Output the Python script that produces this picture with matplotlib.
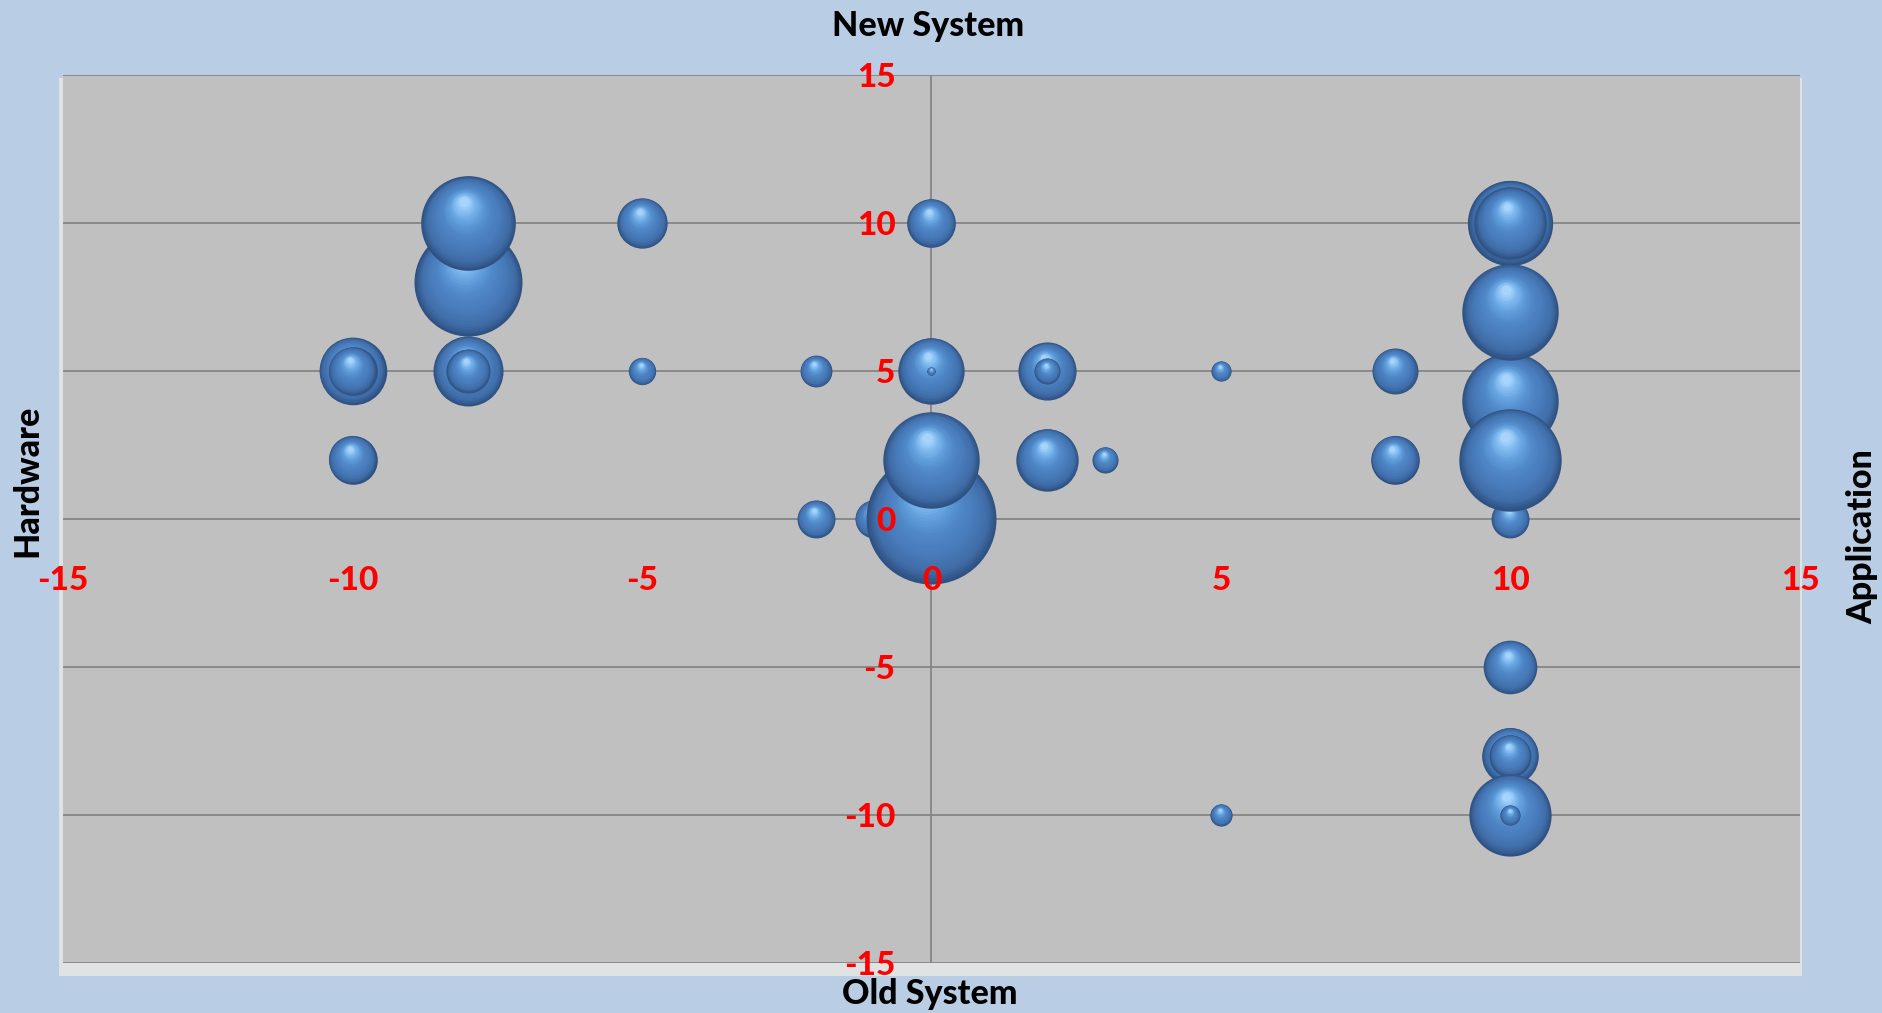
import matplotlib
matplotlib.use("Agg")
import matplotlib.pyplot as plt
import numpy as np
from matplotlib.colors import LinearSegmentedColormap
from matplotlib.transforms import offset_copy
from matplotlib.patches import Rectangle

# Bubble data (drawing order matters: later bubbles sit in front)
x_vals = [-1, 0, 0, -8, -8, -5, 0, 10, 10, 10, 10, 10, 10,
          -10, -10, -8, -8, -5, -2, 0, 0, 2, 2, 5, 8,
          -10, 2, 3, 8, -2, 10, 10, 10, 10, 10, 5]
y_vals = [0, 0, 2, 8, 10, 10, 10, 10, 10, 0, 4, 7, 2,
          5, 5, 5, 5, 5, 5, 5, 5, 5, 5, 5, 5,
          2, 2, 2, 2, 0, -5, -8, -8, -10, -10, -10]
sizes = [8.5, 100, 55, 69, 53, 15, 14, 43, 31, 8.5, 55, 55, 62,
         27, 14, 29, 11.5, 4.4, 6, 26, 0.4, 20, 4, 2.4, 12.5,
         14, 23, 4, 14, 8.5, 17, 19, 10.4, 40, 2.4, 2.9]

ticks = [-15, -10, -5, 0, 5, 10, 15]

FIG_BG = "#B9CDE5"
PLOT_BG = "#C0C0C0"
GRID = "#858585"
LABEL_RED = "#FF0000"
FONT = ["Lato", "DejaVu Sans"]

W, H = 1883, 1013
fig = plt.figure(figsize=(W / 100, H / 100), dpi=100)
fig.patch.set_facecolor(FIG_BG)

# soft light glow around the plot area, behind the axes
glow = Rectangle((59 / W, 1 - 976 / H), (1802 - 59) / W, (976 - 78) / H,
                 transform=fig.transFigure, facecolor="#ECEBE3",
                 edgecolor="none", alpha=0.75, zorder=-5)
fig.patches.append(glow)

left, right, top, bottom = 63, 1800, 75, 963
ax = fig.add_axes([left / W, 1 - bottom / H, (right - left) / W, (bottom - top) / H])
ax.set_zorder(1)
ax.set_facecolor(PLOT_BG)
ax.set_xlim(-15, 15)
ax.set_ylim(-15, 15)

# horizontal gridlines and the vertical zero axis, behind the bubbles
for t in ticks:
    ax.axhline(t, color=GRID, lw=1.3, zorder=0.6)
ax.axvline(0, color=GRID, lw=1.3, zorder=0.6)
for s in ax.spines.values():
    s.set_visible(False)

ax.spines["left"].set_position(("data", 0))
ax.spines["bottom"].set_position(("data", 0))
ax.set_xticks(ticks)
ax.set_yticks(ticks)
ax.set_xticklabels([str(t) for t in ticks])
ax.set_yticklabels([str(t) for t in ticks])
ax.tick_params(axis="both", length=0, labelcolor=LABEL_RED, labelsize=24)
ax.tick_params(axis="x", pad=34)
ax.tick_params(axis="y", pad=26)
for lab in ax.get_xticklabels() + ax.get_yticklabels():
    lab.set_fontfamily(FONT)
    lab.set_fontweight("black")
ax.xaxis.set_zorder(50)
ax.yaxis.set_zorder(50)

# spheres: stacked offset discs shaded from rim to highlight
sphere = LinearSegmentedColormap.from_list("sphere", [
    (0.00, "#2F5282"), (0.05, "#365D92"), (0.14, "#406EA9"),
    (0.32, "#487BBA"), (0.55, "#5088C8"), (0.75, "#64A2DF"),
    (0.90, "#88BFF2"), (1.00, "#A7D4FB")])

R_MAX_PT = 65 * 72 / 100   # radius in points of a size-100 bubble
N = 30
for j, (bx, by, bs) in enumerate(zip(x_vals, y_vals, sizes)):
    r = R_MAX_PT * np.sqrt(bs / 100.0)
    for k in range(N):
        t = k / (N - 1)
        rr = r * (1 - 0.9 * t)
        dx = -0.10 * r * t
        dy = 0.45 * r * t
        tr = offset_copy(ax.transData, fig=fig, x=dx, y=dy, units="points")
        ax.scatter([bx], [by], s=(2 * rr) ** 2, color=sphere(t), linewidths=0,
                   transform=tr, zorder=2 + j * 0.01 + k * 0.0001, clip_on=False)

# axis titles
title_kw = dict(fontsize=24.5, fontweight="black", color="black", family=FONT)
fig.text(928 / W, 1 - 26 / H, "New System", ha="center", va="center", **title_kw)
fig.text(930 / W, 1 - 994 / H, "Old System", ha="center", va="center", **title_kw)
fig.text(27 / W, 1 - 481 / H, "Hardware", ha="center", va="center", rotation=90, **title_kw)
fig.text(1862 / W, 1 - 537 / H, "Application", ha="center", va="center", rotation=90, **title_kw)

fig.savefig("out.png", dpi=100, facecolor=FIG_BG)
